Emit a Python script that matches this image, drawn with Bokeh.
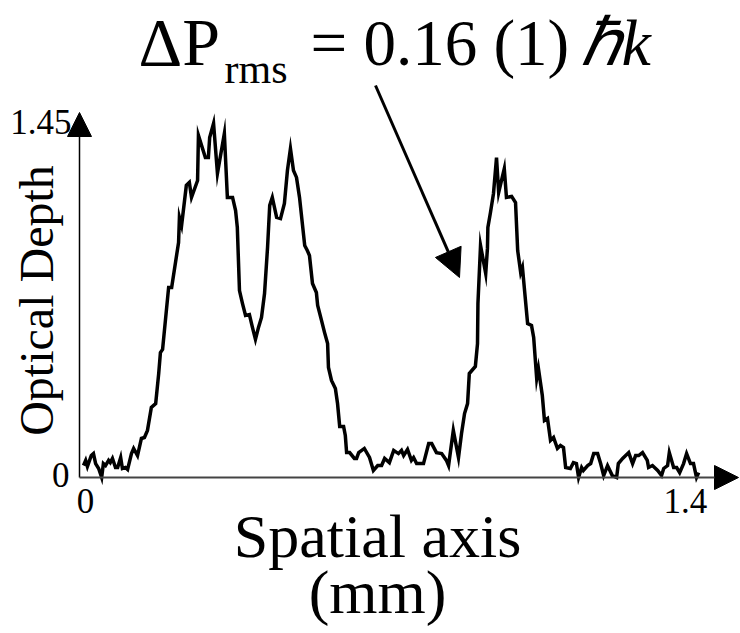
from bokeh.plotting import figure
from bokeh.models import Label, Arrow, NormalHead, Range1d, ColumnDataSource
from bokeh.embed import file_html
from bokeh.resources import INLINE

# ---------------- data ----------------
x_mm = [0.007, 0.012, 0.016, 0.025, 0.030, 0.035, 0.042, 0.049, 0.053, 0.058,
        0.065, 0.069, 0.074, 0.081, 0.086, 0.093, 0.097, 0.104, 0.109, 0.118,
        0.123, 0.132, 0.141, 0.148, 0.155, 0.164, 0.174, 0.181, 0.185, 0.190,
        0.204, 0.211, 0.227, 0.229, 0.234, 0.245, 0.252, 0.257, 0.271, 0.273,
        0.289, 0.296, 0.299, 0.308, 0.317, 0.333, 0.340, 0.352, 0.359, 0.363,
        0.368, 0.375, 0.382, 0.391, 0.398, 0.405, 0.412, 0.419, 0.426, 0.433,
        0.438, 0.444, 0.454, 0.463, 0.472, 0.479, 0.486, 0.493, 0.500, 0.507,
        0.519, 0.525, 0.530, 0.537, 0.546, 0.549, 0.558, 0.565, 0.572, 0.574,
        0.581, 0.590, 0.595, 0.600, 0.609, 0.613, 0.616, 0.623, 0.634, 0.639,
        0.644, 0.657, 0.669, 0.678, 0.688, 0.697, 0.704, 0.715, 0.725, 0.736,
        0.743, 0.748, 0.757, 0.766, 0.771, 0.778, 0.794, 0.806, 0.813, 0.824,
        0.836, 0.847, 0.852, 0.863, 0.875, 0.882, 0.889, 0.896, 0.900, 0.914,
        0.919, 0.920, 0.926, 0.938, 0.942, 0.943, 0.949, 0.956, 0.963, 0.968,
        0.981, 0.986, 0.998, 1.007, 1.012, 1.019, 1.023, 1.035, 1.044, 1.049,
        1.056, 1.060, 1.069, 1.074, 1.081, 1.088, 1.095, 1.104, 1.111, 1.118,
        1.123, 1.134, 1.141, 1.148, 1.153, 1.160, 1.164, 1.174, 1.181, 1.188,
        1.197, 1.204, 1.211, 1.220, 1.231, 1.241, 1.245, 1.255, 1.262, 1.269,
        1.278, 1.285, 1.292, 1.301, 1.312, 1.315, 1.324, 1.336, 1.345, 1.350,
        1.359, 1.363, 1.373, 1.380, 1.387, 1.396, 1.403, 1.412, 1.419, 1.426,
        1.431]

optical_depth = [0.049, 0.070, 0.045, 0.090, 0.098, 0.057, 0.037, 0.000, 0.057, 0.049,
                 0.070, 0.061, 0.078, 0.041, 0.041, 0.082, 0.037, 0.041, 0.033, 0.098,
                 0.119, 0.090, 0.160, 0.164, 0.193, 0.287, 0.303, 0.426, 0.512, 0.525,
                 0.779, 0.779, 0.963, 1.066, 1.033, 1.197, 1.209, 1.148, 1.217, 1.402,
                 1.311, 1.311, 1.393, 1.451, 1.246, 1.410, 1.148, 1.148, 1.094, 1.025,
                 0.766, 0.713, 0.664, 0.668, 0.615, 0.566, 0.615, 0.656, 0.754, 0.943,
                 1.115, 1.148, 1.066, 1.061, 1.123, 1.258, 1.348, 1.258, 1.230, 1.148,
                 0.951, 0.930, 0.910, 0.795, 0.758, 0.705, 0.643, 0.594, 0.549, 0.451,
                 0.398, 0.365, 0.303, 0.209, 0.209, 0.172, 0.102, 0.102, 0.078, 0.078,
                 0.102, 0.119, 0.082, 0.029, 0.049, 0.049, 0.078, 0.061, 0.111, 0.098,
                 0.111, 0.090, 0.115, 0.070, 0.082, 0.057, 0.057, 0.139, 0.139, 0.102,
                 0.098, 0.070, 0.049, 0.193, 0.082, 0.180, 0.262, 0.303, 0.426, 0.455,
                 0.549, 0.713, 0.951, 0.836, 0.939, 1.025, 1.086, 1.164, 1.311, 1.168,
                 1.266, 1.148, 1.152, 1.127, 0.930, 0.840, 0.861, 0.631, 0.623, 0.574,
                 0.406, 0.447, 0.336, 0.234, 0.242, 0.152, 0.164, 0.119, 0.131, 0.123,
                 0.041, 0.037, 0.061, 0.057, 0.000, 0.041, 0.029, 0.049, 0.057, 0.098,
                 0.098, 0.057, 0.008, 0.049, 0.008, 0.000, 0.057, 0.078, 0.090, 0.102,
                 0.057, 0.090, 0.090, 0.102, 0.070, 0.041, 0.049, 0.029, 0.008, 0.037,
                 0.049, 0.102, 0.041, 0.041, 0.020, 0.057, 0.098, 0.057, 0.057, 0.000,
                 0.020]

x_ticks = [0, 1.4]
x_tick_labels = ["0", "1.4"]
y_ticks = [0, 1.45]
y_tick_labels = ["0", "1.45"]

x_axis_title = "Spatial axis"
x_axis_unit = "(mm)"
y_axis_title = "Optical Depth"

# ---------------- layout ----------------
W, H = 740, 633
PX_PER_X = 432.0      # pixels per mm
PX_PER_Y = 244.0      # pixels per optical-depth unit
ORIGIN_X = 80         # canvas px of x = 0
ORIGIN_Y = 477        # canvas px (from top) of y = 0
FONT = "Liberation Serif"


def dx(px):
    return (px - ORIGIN_X) / PX_PER_X


def dy(py):
    return (ORIGIN_Y - py) / PX_PER_Y


def base(py, size):
    # anchor so that the alphabetic baseline lands on py
    return dy(py - 0.36 * size)


p = figure(width=W, height=H,
           x_range=Range1d(-ORIGIN_X / PX_PER_X, (W - ORIGIN_X) / PX_PER_X),
           y_range=Range1d(-(H - ORIGIN_Y) / PX_PER_Y, ORIGIN_Y / PX_PER_Y),
           output_backend="svg", toolbar_location=None,
           x_axis_location=None, y_axis_location=None, min_border=0)
p.outline_line_color = None
p.background_fill_color = "white"
p.border_fill_color = "white"
p.grid.visible = False

src = ColumnDataSource(dict(x=x_mm, y=optical_depth))
p.line("x", "y", source=src, line_width=3.5, line_color="black", line_join="miter")

# axes with arrow heads
p.add_layout(Arrow(end=NormalHead(size=24, fill_color="black", line_color="black"),
                   x_start=dx(79), y_start=0, x_end=dx(79), y_end=dy(112),
                   line_color="black", line_width=1.5))
p.add_layout(Arrow(end=NormalHead(size=24, fill_color="black", line_color="black"),
                   x_start=dx(79), y_start=0, x_end=dx(738), y_end=0,
                   line_color="#444444", line_width=2))

TICK = 35
# tick labels
p.add_layout(Label(x=x_ticks[0], y=base(513, TICK), text=x_tick_labels[0], x_offset=5,
                   text_font=FONT, text_font_size=f"{TICK}px", text_align="center",
                   text_baseline="alphabetic", text_color="black"))
p.add_layout(Label(x=x_ticks[1], y=base(513, TICK), text=x_tick_labels[1],
                   text_font=FONT, text_font_size=f"{TICK}px", text_align="center",
                   text_baseline="alphabetic", text_color="black"))
p.add_layout(Label(x=dx(69), y=base(487, TICK), text=y_tick_labels[0],
                   text_font=FONT, text_font_size=f"{TICK}px", text_align="right",
                   text_baseline="alphabetic", text_color="black"))
p.add_layout(Label(x=dx(71), y=base(134, TICK), text=y_tick_labels[1],
                   text_font=FONT, text_font_size=f"{TICK}px", text_align="right",
                   text_baseline="alphabetic", text_color="black"))

# axis titles
p.add_layout(Label(x=dx(36), y=dy(300), text=y_axis_title, angle=1.5708,
                   text_font=FONT, text_font_size="48px", text_align="center",
                   text_baseline="middle", text_color="black"))
p.add_layout(Label(x=dx(377), y=base(558, 62), text=x_axis_title,
                   text_font=FONT, text_font_size="62px", text_align="center",
                   text_baseline="alphabetic", text_color="black"))
p.add_layout(Label(x=dx(377), y=base(614, 62), text=x_axis_unit,
                   text_font=FONT, text_font_size="62px", text_align="center",
                   text_baseline="alphabetic", text_color="black"))

# annotation  ΔP_rms = 0.16 (1) ħk
p.add_layout(Label(x=dx(138), y=base(66, 68), text="ΔP", text_font=FONT,
                   text_font_size="68px", text_baseline="alphabetic", text_color="black"))
p.add_layout(Label(x=dx(224), y=base(84, 42), text="rms", text_font=FONT,
                   text_font_size="42px", text_baseline="alphabetic", text_color="black"))
p.add_layout(Label(x=dx(310), y=base(66, 65), text="= 0.16 (1)", text_font=FONT,
                   text_font_size="65px", text_baseline="alphabetic", text_color="black"))
p.add_layout(Label(x=dx(580), y=base(66, 66), text="ℏk", text_font=FONT,
                   text_font_style="italic", text_color="black",
                   text_font_size="66px", text_baseline="alphabetic"))
p.add_layout(Arrow(end=NormalHead(size=28, fill_color="black", line_color="black"),
                   x_start=dx(375), y_start=dy(85), x_end=dx(459), y_end=dy(277),
                   line_color="black", line_width=3))

open("out.html", "w").write(file_html(p, INLINE))
